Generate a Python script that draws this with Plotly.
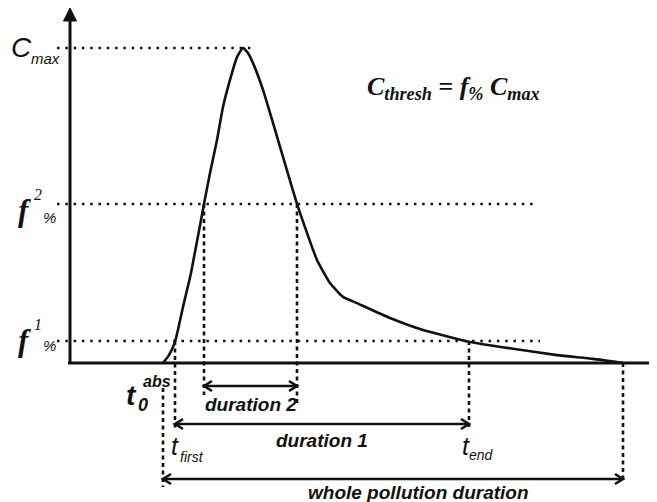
import plotly.graph_objects as go

# ---------------- data (schematic units: time t, concentration C / C_max) ----------------
curve_t = [9.3, 9.9, 10.5, 11.3, 12.1, 13.4, 14.0, 14.7, 15.3, 16.2, 16.7, 17.3, 17.8, 18.3,
           19.3, 20.3, 21.3, 22.7, 23.7, 24.7, 26.0, 27.3, 28.7, 32.0, 35.3, 40.0, 43.7,
           48.7, 52.3, 55.3]
curve_c = [0.0, 0.025, 0.067, 0.178, 0.286, 0.505, 0.603, 0.708, 0.813, 0.921, 0.971, 1.0,
           0.984, 0.952, 0.867, 0.762, 0.654, 0.505, 0.413, 0.327, 0.254, 0.210, 0.190,
           0.143, 0.105, 0.067, 0.048, 0.025, 0.013, 0.0]

level_names = ["C_max", "f2", "f1"]
level_values = [1.0, 0.505, 0.07]

t0_abs = 9.3
t_first = 10.5
t2_start = 13.4
t_peak = 17.3
t2_end = 22.7
t_end = 39.9
t_stop = 55.3

duration_labels = ["duration 2", "duration 1", "whole pollution duration"]

# ---------------- layout helpers (page pixel <-> data) ----------------
PAGE_W, PAGE_H = 657, 502
OFF = 8                      # default body margin of the page
W, H = PAGE_W, PAGE_H        # figure may run past the window edge; only the visible part matters
X0PX, Y0PX, XS, YS = 70, 363, 10.0, 315.0


def tx(px):
    return (px - X0PX) / XS


def cy(py):
    return (Y0PX - py) / YS


def px_(x):
    return (x - OFF) / W


def py_(y):
    return 1 - (y - OFF) / H


SANS = "Liberation Sans"
SERIF = "Liberation Serif"
BLACK = "#111111"

fig = go.Figure()

# main curve
fig.add_trace(go.Scatter(x=curve_t, y=curve_c, mode="lines",
                         line=dict(color=BLACK, width=2.6, shape="spline", smoothing=0.5),
                         hoverinfo="skip", showlegend=False))

shapes = []
DOT = "2.5px,5.8px"
DASH = "4px,3.5px"

# horizontal dotted threshold lines
level_ends = [t_peak + 1.2, tx(533), tx(540)]
for val, xe in zip(level_values, level_ends):
    shapes.append(dict(type="line", xref="x", yref="y", x0=tx(57), x1=xe, y0=val, y1=val,
                       line=dict(color=BLACK, width=2.4, dash=DOT)))

# vertical dashed lines
f2 = level_values[1]
f1 = level_values[2]
verticals = [
    (t0_abs, cy(388), cy(487)),
    (t_first, f1, cy(430)),
    (t2_start, f2, cy(395)),
    (t2_end, f2, cy(406)),
    (t_end, f1, cy(427)),
    (t_stop, 0.0, cy(480)),
]
for xv, ya, yb in verticals:
    shapes.append(dict(type="line", xref="x", yref="y", x0=xv, x1=xv, y0=ya, y1=yb,
                       line=dict(color=BLACK, width=2.6, dash=DASH)))

# axes
shapes.append(dict(type="line", xref="x", yref="y", x0=tx(68), x1=tx(670), y0=0, y1=0,
                   line=dict(color=BLACK, width=3)))
shapes.append(dict(type="line", xref="x", yref="y", x0=0, x1=0, y0=0, y1=cy(18),
                   line=dict(color=BLACK, width=3)))
shapes.append(dict(type="path", xref="x", yref="y",
                   path=f"M {tx(63.5)},{cy(21)} L {tx(70)},{cy(8)} L {tx(76.5)},{cy(21)} Z",
                   fillcolor=BLACK, line=dict(color=BLACK, width=1)))

# double arrows (lines)
arrows = [
    (t2_start, t2_end, cy(386)),
    (t_first, t_end, cy(424)),
    (t0_abs, t_stop, cy(479)),
]
hx, hy = [], []
dx, dy = 0.8, 5.0 / YS
for xa, xb, ya in arrows:
    shapes.append(dict(type="line", xref="x", yref="y", x0=xa, x1=xb, y0=ya, y1=ya,
                       line=dict(color=BLACK, width=2.6)))
    hx += [xa + dx, xa, xa + dx, None, xb - dx, xb, xb - dx, None]
    hy += [ya + dy, ya, ya - dy, None, ya + dy, ya, ya - dy, None]
fig.add_trace(go.Scatter(x=hx, y=hy, mode="lines", line=dict(color=BLACK, width=2.6),
                         hoverinfo="skip", showlegend=False))

ann = []


def label(text, x, y, size, family=SANS, xanchor="center", yanchor="middle", ref="paper"):
    if ref == "paper":
        ann.append(dict(text=text, x=px_(x), y=py_(y), xref="paper", yref="paper",
                        xanchor=xanchor, yanchor=yanchor, showarrow=False,
                        font=dict(family=family, size=size, color=BLACK)))
    else:
        ann.append(dict(text=text, x=x, y=y, xref="x", yref="y",
                        xanchor=xanchor, yanchor=yanchor, showarrow=False,
                        font=dict(family=family, size=size, color=BLACK)))


# left labels
label("<i>C</i>", 9, 47, 28, xanchor="left")
label("<i>max</i>", 29, 58, 15, xanchor="left")
for lvl_y, sup, pct_dy in [(210, "2", 7), (340, "1", 5)]:
    label("<b><i>f</i></b>", 16, lvl_y, 31, family=SERIF, xanchor="left")
    label(f"<i>{sup}</i>", 32, lvl_y - 16, 16, family=SERIF, xanchor="left")
    label("<i>%</i>", 41, lvl_y + pct_dy, 15, xanchor="left")

# formula
label("<b><i>C<sub>thresh</sub> = f<sub>%</sub> C<sub>max</sub></i></b>", 365, 88, 26,
      family=SERIF, xanchor="left")

# bottom labels
label("<b><i>t</i></b>", 124, 395, 28, xanchor="left")
label("<b><i>0</i></b>", 136, 405, 18, xanchor="left")
label("<b><i>abs</i></b>", 141, 381, 16, xanchor="left")
label("<i>t</i>", 169, 446, 25, xanchor="left")
label("<i>first</i>", 178, 457, 14, xanchor="left")
label("<i>t</i>", 460, 446, 25, xanchor="left")
label("<i>end</i>", 467, 455, 14, xanchor="left")

label(f"<b><i>{duration_labels[0]}</i></b>", (t2_start + t2_end) / 2, cy(404), 19, ref="data")
label(f"<b><i>{duration_labels[1]}</i></b>", (t_first + t_end) / 2, cy(440), 19, ref="data")
label(f"<b><i>{duration_labels[2]}</i></b>", 418, 492, 19)

fig.update_layout(
    width=W, height=H, margin=dict(l=0, r=0, t=0, b=0),
    paper_bgcolor="white", plot_bgcolor="white",
    xaxis=dict(range=[tx(OFF), tx(OFF + W)], visible=False, fixedrange=True),
    yaxis=dict(range=[cy(OFF + H), cy(OFF)], visible=False, fixedrange=True),
    shapes=shapes, annotations=ann, showlegend=False,
)

fig.write_html("out.html")
